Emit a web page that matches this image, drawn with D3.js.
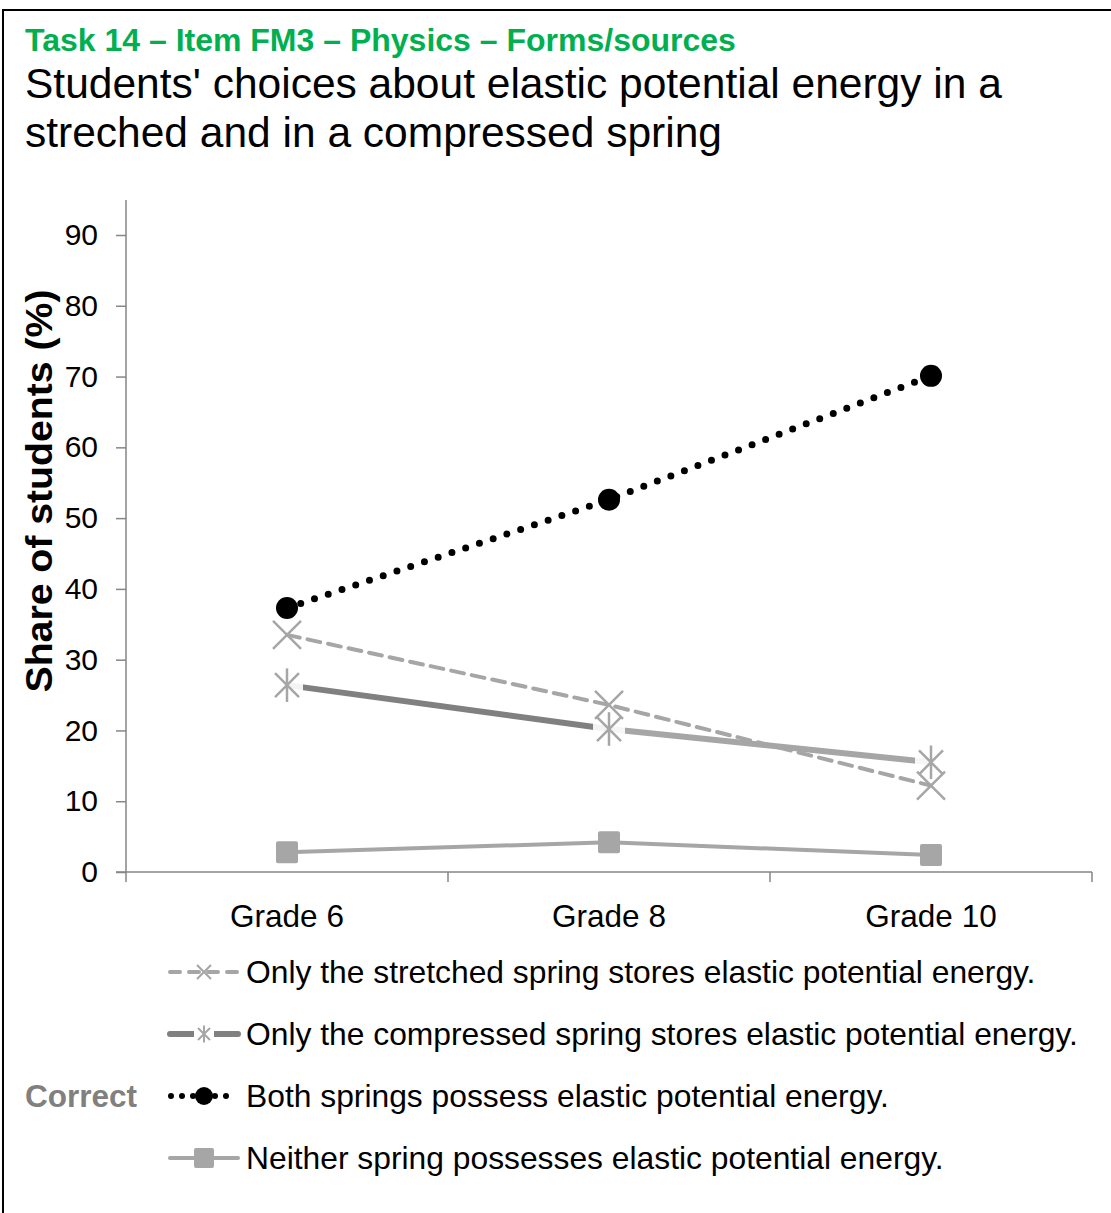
<!DOCTYPE html>
<html><head><meta charset="utf-8">
<script src="https://cdn.jsdelivr.net/npm/d3@7"></script>
<style>body{margin:0;background:#fff}svg{display:block;font-family:"Liberation Sans",Arial,sans-serif}</style>
</head><body>
<script>
const categories = ["Grade 6", "Grade 8", "Grade 10"];
const stretched = [33.5, 23.6, 12.2];
const compressed = [26.4, 20.2, 15.5];
const both = [37.3, 52.6, 70.1];
const neither = [2.8, 4.2, 2.4];
const yTicks = [0, 10, 20, 30, 40, 50, 60, 70, 80, 90];
const legendLabels = [
  "Only the stretched spring stores elastic potential energy.",
  "Only the compressed spring stores elastic potential energy.",
  "Both springs possess elastic potential energy.",
  "Neither spring possesses elastic potential energy."
];

const W = 1111, H = 1213;
const svg = d3.select("body").append("svg").attr("width", W).attr("height", H);

svg.append("rect").attr("x", 3).attr("y", 10).attr("width", 1130).attr("height", 1230)
  .attr("fill", "none").attr("stroke", "#000").attr("stroke-width", 2);

svg.append("text").attr("x", 25).attr("y", 51).attr("fill", "#00b050")
  .attr("font-size", 32).attr("font-weight", "bold").text("Task 14 – Item FM3 – Physics – Forms/sources");
svg.append("text").attr("x", 25).attr("y", 98).attr("font-size", 42.5)
  .text("Students' choices about elastic potential energy in a");
svg.append("text").attr("x", 25).attr("y", 147).attr("font-size", 42.5)
  .text("streched and in a compressed spring");

const x = d3.scaleBand().domain(categories).range([126, 1092]);
const y = d3.scaleLinear().domain([0, 90]).range([872, 235]);
const cx = c => x(c) + x.bandwidth() / 2;

// y axis
const yAx = svg.append("g").attr("transform", "translate(126,0)")
  .call(d3.axisLeft(y).tickValues(yTicks).tickSize(10).tickPadding(18));
yAx.select(".domain").remove();
yAx.selectAll(".tick line").attr("stroke", "#868686").attr("stroke-width", 1.5);
yAx.selectAll(".tick text").attr("font-size", 30).attr("fill", "#000")
  .attr("font-family", "Liberation Sans, Arial, sans-serif");
svg.append("line").attr("x1", 126).attr("x2", 126).attr("y1", 200).attr("y2", 872)
  .attr("stroke", "#868686").attr("stroke-width", 1.5);

// x axis
const xAx = svg.append("g").attr("transform", "translate(0,872)")
  .call(d3.axisBottom(x).tickSize(0).tickPadding(33));
xAx.select(".domain").remove();
xAx.selectAll(".tick text").attr("font-size", 31.5).attr("fill", "#000")
  .attr("font-family", "Liberation Sans, Arial, sans-serif");
svg.append("line").attr("x1", 116).attr("x2", 1092).attr("y1", 872).attr("y2", 872)
  .attr("stroke", "#868686").attr("stroke-width", 1.5);
const bounds = [126, x("Grade 8"), x("Grade 10"), 1092];
svg.selectAll(".xtick").data(bounds).join("line")
  .attr("x1", d => d).attr("x2", d => d).attr("y1", 872).attr("y2", 882)
  .attr("stroke", "#868686").attr("stroke-width", 1.5);

// y label
svg.append("text").attr("transform", "translate(52,491) rotate(-90)")
  .attr("text-anchor", "middle").attr("font-size", 37.5).attr("font-weight", "bold")
  .attr("textLength", 403).attr("lengthAdjust", "spacingAndGlyphs")
  .text("Share of students (%)");

const LIGHT = "#a6a6a6", DARK = "#808080";
const line = d3.line().x((d, i) => cx(categories[i])).y(d => y(d));

function xMark(g, px, py, s, col, sw) {
  g.append("path").attr("d", `M${px-s},${py-s}L${px+s},${py+s}M${px-s},${py+s}L${px+s},${py-s}`)
    .attr("stroke", col).attr("stroke-width", sw).attr("fill", "none");
}
function starMark(g, px, py, s, col, sw) {
  xMark(g, px, py, s, col, sw);
  g.append("path").attr("d", `M${px},${py-s*1.4}L${px},${py+s*1.4}`)
    .attr("stroke", col).attr("stroke-width", sw);
}
function sqMark(g, px, py, s, col) {
  g.append("rect").attr("x", px - s).attr("y", py - s).attr("width", 2 * s).attr("height", 2 * s)
    .attr("rx", 2).attr("fill", col);
}
function circMark(g, px, py, r, col) {
  g.append("circle").attr("cx", px).attr("cy", py).attr("r", r).attr("fill", col);
}

const plot = svg.append("g");
plot.append("path").attr("d", line(neither)).attr("fill", "none").attr("stroke", LIGHT).attr("stroke-width", 4);
neither.forEach((v, i) => sqMark(plot, cx(categories[i]), y(v), 11, LIGHT));
plot.append("path").attr("d", d3.line().x((d, i) => cx(categories[i])).y(d => y(d))(compressed.slice(0, 2)))
  .attr("fill", "none").attr("stroke", DARK).attr("stroke-width", 6);
plot.append("path").attr("d", d3.line().x((d, i) => cx(categories[i + 1])).y(d => y(d))(compressed.slice(1)))
  .attr("fill", "none").attr("stroke", LIGHT).attr("stroke-width", 6);
compressed.forEach((v, i) => {
  const px = cx(categories[i]), py = y(v);
  plot.append("rect").attr("x", px - 16).attr("y", py - 16).attr("width", 32).attr("height", 32).attr("fill", "#fff").attr("opacity", 0.9);
});
compressed.forEach((v, i) => starMark(plot, cx(categories[i]), y(v), 12, LIGHT, 2.5));
plot.append("path").attr("d", line(stretched)).attr("fill", "none").attr("stroke", LIGHT)
  .attr("stroke-width", 4).attr("stroke-dasharray", "13 8").attr("stroke-linecap", "round");
stretched.forEach((v, i) => xMark(plot, cx(categories[i]), y(v), 14, LIGHT, 2.5));
plot.append("path").attr("d", line(both)).attr("fill", "none").attr("stroke", "#000")
  .attr("stroke-width", 7).attr("stroke-dasharray", "0 14.5").attr("stroke-linecap", "round");
both.forEach((v, i) => circMark(plot, cx(categories[i]), y(v), 11, "#000"));

// legend
const ly = [972, 1034, 1096, 1158];
const lg = svg.append("g");
legendLabels.forEach((t, i) => {
  lg.append("text").attr("x", 246).attr("y", ly[i]).attr("dy", "0.36em").attr("font-size", 31.8).text(t);
});
lg.append("path").attr("d", `M170,${ly[0]}L238,${ly[0]}`).attr("stroke", LIGHT).attr("stroke-width", 4)
  .attr("stroke-dasharray", "10 9").attr("stroke-linecap", "round");
xMark(lg, 204, ly[0], 7, LIGHT, 2);
lg.append("path").attr("d", `M170,${ly[1]}L238,${ly[1]}`).attr("stroke", DARK).attr("stroke-width", 6).attr("stroke-linecap", "round");
lg.append("rect").attr("x", 194).attr("y", ly[1] - 9).attr("width", 20).attr("height", 18).attr("fill", "#fff");
starMark(lg, 204, ly[1], 6, LIGHT, 2);
lg.append("path").attr("d", `M171,${ly[2]}L236,${ly[2]}`).attr("stroke", "#000").attr("stroke-width", 6)
  .attr("stroke-dasharray", "0 11").attr("stroke-linecap", "round");
circMark(lg, 204, ly[2], 9, "#000");
lg.append("path").attr("d", `M170,${ly[3]}L238,${ly[3]}`).attr("stroke", LIGHT).attr("stroke-width", 4).attr("stroke-linecap", "round");
sqMark(lg, 204, ly[3], 10, LIGHT);

lg.append("text").attr("x", 25).attr("y", ly[2]).attr("dy", "0.36em").attr("font-size", 31.5)
  .attr("font-weight", "bold").attr("fill", "#808080").text("Correct");
</script>
</body></html>
